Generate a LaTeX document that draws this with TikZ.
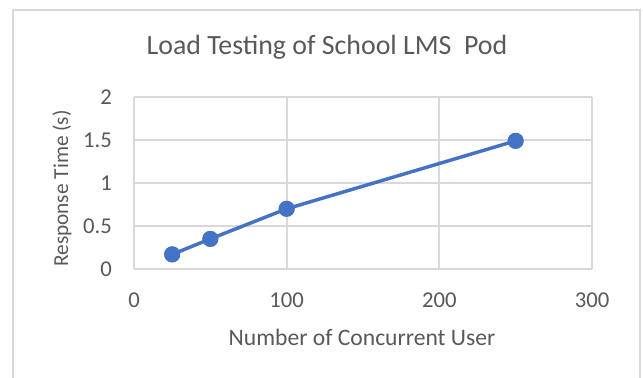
\documentclass[tikz,border=0pt]{standalone}
\usepackage{fontspec}
\setmainfont{Carlito}
\usepackage{xcolor}
\definecolor{linecol}{HTML}{4472C4}
\definecolor{gridcol}{HTML}{D9D9D9}
\definecolor{textcol}{HTML}{595959}

\begin{document}
\begin{tikzpicture}[
    x=0.75pt, y=0.75pt,
    every node/.style={text=textcol},
    grid line/.style={draw=gridcol, line width=1.5pt},
    tick label/.style={font=\fontsize{17}{20}\selectfont, inner sep=0pt},
    axis label/.style={font=\fontsize{17.7}{20}\selectfont, inner sep=0pt},
    point/.style={circle, fill=linecol, minimum size=12pt, inner sep=0pt},
    series/.style={draw=linecol, line width=2.6pt},
  ]
  \useasboundingbox (0,0) rectangle (643,378);

  % chart frame (bottom edge is cut off)
  \draw[gridcol, line width=1.2pt] (13,0) -- (13,368) -- (640,368) -- (640,0);

  % title
  \node[font=\fontsize{20.9}{24}\selectfont, inner sep=0pt] (title) at (327,331)
    {Load Testing of School LMS\ \ Pod};

  % axis titles
  \node[axis label, font=\fontsize{16}{19}\selectfont, rotate=90] (ylabel) at (62,189.5)
    {Response Time (s)};
  \node[axis label] (xlabel) at (362,41) {Number of Concurrent User};

  % plot area in data units
  \begin{scope}[shift={(134,109)}, x=1.145pt, y=64.5pt]
    % gridlines
    \foreach \v in {0,0.5,...,2}
      \draw[grid line] (0,\v) -- (300,\v);
    \foreach \u in {0,100,200,300}
      \draw[grid line] (\u,0) -- (\u,2);

    % tick labels
    \foreach \v/\lbl in {0/0, 0.5/0.5, 1/1, 1.5/1.5, 2/2}
      \node[tick label, anchor=east] (ytick\lbl) at (-14.4,\v) {\lbl};
    \foreach \u in {0,100,200,300}
      \node[tick label] (xtick\u) at (\u,-0.36) {\u};

    % data points
    \node[point] (p25)  at (25,0.17) {};
    \node[point] (p50)  at (50,0.35) {};
    \node[point] (p100) at (100,0.7) {};
    \node[point] (p250) at (250,1.49) {};

    \draw[series] (p25.center) -- (p50.center) -- (p100.center) -- (p250.center);
    \node[point] at (p25) {};
    \node[point] at (p50) {};
    \node[point] at (p100) {};
    \node[point] at (p250) {};
  \end{scope}

\end{tikzpicture}
\end{document}
